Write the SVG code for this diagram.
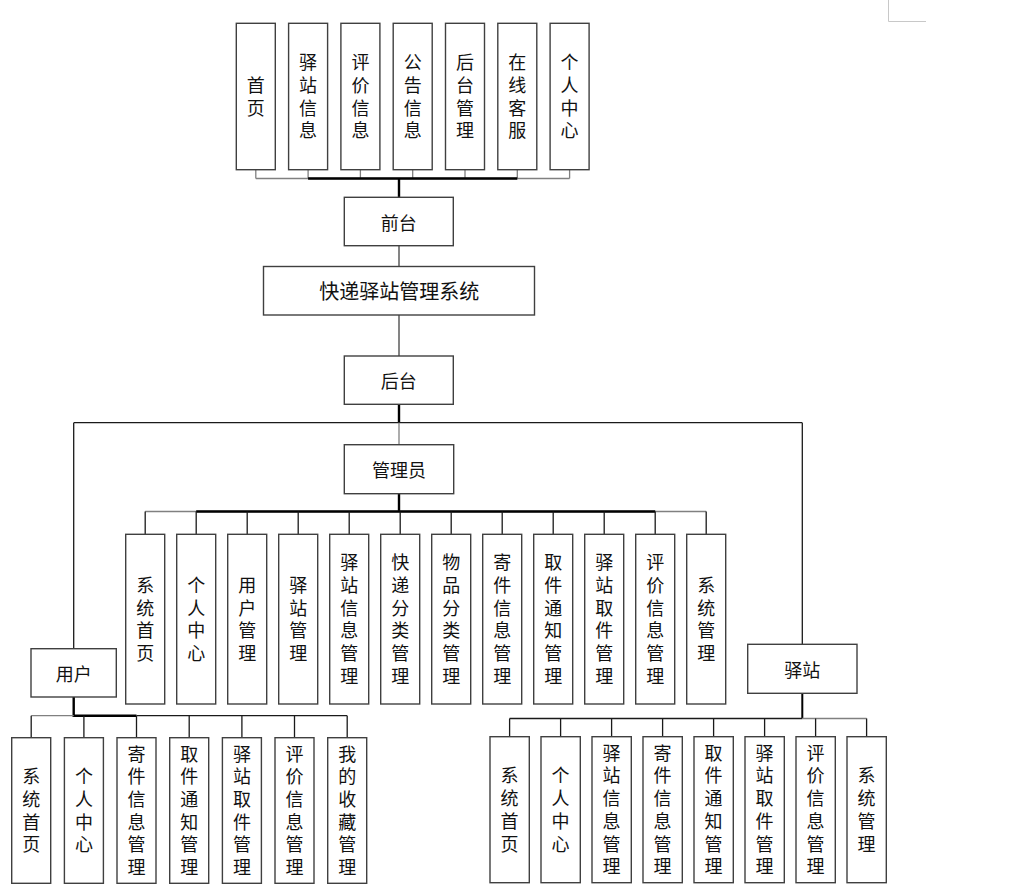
<svg xmlns="http://www.w3.org/2000/svg" width="1011" height="893" viewBox="0 0 1011 893">
<style>
.box{fill:#fff;stroke:#404040;stroke-width:1.4}
.lbl{font-family:"Noto Sans CJK SC","Noto Sans CJK TC",sans-serif;font-size:18px;fill:#111;text-anchor:middle;dominant-baseline:central}
.title{font-size:20px}
.v{font-family:"Noto Sans CJK SC","Noto Sans CJK TC",sans-serif;font-size:18px;fill:#111;text-anchor:middle;writing-mode:vertical-rl;letter-spacing:4.7px}
.c{stroke:#808080;stroke-width:1.3;fill:none}
.d{stroke:#1a1a1a;stroke-width:1.3;fill:none}
.t{stroke:#000;stroke-width:2.4;fill:none}
.g{stroke:#666;stroke-width:1.6;fill:none}
.m{stroke:#c8c8c8;stroke-width:1;fill:none}
</style>
<rect width="1011" height="893" fill="#fff"/>
<g id="corner-mark"><path class="m" d="M888.5 0V21.5H926"/></g>
<g id="connectors">
<path class="c" d="M255.8 169.7V178.5M308.1 169.7V178.5M360.4 169.7V178.5M412.7 169.7V178.5M465 169.7V178.5M517.3 169.7V178.5M569.6 169.7V178.5"/>
<path class="c" d="M255.8 178.5H569.6"/>
<path class="t" d="M308.1 178.5H517.3M399 178.5V197.3"/>
<path class="g" d="M399 245.7V266.5M399 315V356"/>
<path class="t" d="M399 404.3V422.7"/>
<path class="d" d="M73.7 422.7H802.3M73.7 422.7V648.7M802.3 422.7V644.3"/>
<path class="c" d="M399 422.7V444.7"/>
<path class="t" d="M399 493.7V511.5"/>
<path class="c" d="M145.2 511.5H706.2"/>
<path class="t" d="M196.2 511.5H655.2"/>
<path class="d" d="M145.2 511.5V534.3M196.2 511.5V534.3M247.2 511.5V534.3M298.2 511.5V534.3M349.2 511.5V534.3M400.2 511.5V534.3M451.2 511.5V534.3M502.2 511.5V534.3M553.2 511.5V534.3M604.2 511.5V534.3M655.2 511.5V534.3M706.2 511.5V534.3"/>
<path class="t" d="M73.7 697V715.7H136.5"/>
<path class="c" d="M31.2 715.7H73.7"/>
<path class="d" d="M136.5 715.7H347.2"/>
<path class="d" d="M31.2 715.7V737.7M83.9 715.7V737.7M136.5 715.7V737.7M189.2 715.7V737.7M241.9 715.7V737.7M294.5 715.7V737.7M347.2 715.7V737.7"/>
<path class="t" d="M802.3 693.3V718.5" style="stroke-width:2"/>
<path class="d" d="M509.6 718.5H802.3"/>
<path class="c" d="M802.3 718.5H866.6"/>
<path class="d" d="M509.6 718.5V736.7M560.6 718.5V736.7M611.6 718.5V736.7M662.6 718.5V736.7M713.6 718.5V736.7M764.6 718.5V736.7M815.6 718.5V736.7M866.6 718.5V736.7"/>
</g>
<g id="n-top-1"><rect class="box" x="236.3" y="23.3" width="39" height="146.4"/><text class="v" x="255.8" y="98.8">首页</text></g>
<g id="n-top-2"><rect class="box" x="288.6" y="23.3" width="39" height="146.4"/><text class="v" x="308.1" y="98.8">驿站信息</text></g>
<g id="n-top-3"><rect class="box" x="340.9" y="23.3" width="39" height="146.4"/><text class="v" x="360.4" y="98.8">评价信息</text></g>
<g id="n-top-4"><rect class="box" x="393.2" y="23.3" width="39" height="146.4"/><text class="v" x="412.7" y="98.8">公告信息</text></g>
<g id="n-top-5"><rect class="box" x="445.5" y="23.3" width="39" height="146.4"/><text class="v" x="465" y="98.8">后台管理</text></g>
<g id="n-top-6"><rect class="box" x="497.8" y="23.3" width="39" height="146.4"/><text class="v" x="517.3" y="98.8">在线客服</text></g>
<g id="n-top-7"><rect class="box" x="550.1" y="23.3" width="39" height="146.4"/><text class="v" x="569.6" y="98.8">个人中心</text></g>
<g id="n-qiantai"><rect class="box" x="344.3" y="197.3" width="109" height="48.4"/><text class="lbl" x="398.8" y="221.5">前台</text></g>
<g id="n-system"><rect class="box" x="263.5" y="266.5" width="271" height="48.5"/><text class="lbl title" x="399.3" y="290.7">快递驿站管理系统</text></g>
<g id="n-houtai"><rect class="box" x="344.3" y="356" width="109" height="48.3"/><text class="lbl" x="398.8" y="380.2">后台</text></g>
<g id="n-admin"><rect class="box" x="344.3" y="444.7" width="109.4" height="49"/><text class="lbl" x="399" y="469.2">管理员</text></g>
<g id="n-admin-1"><rect class="box" x="125.7" y="534.3" width="39" height="169.7"/><text class="v" x="145.2" y="621.5">系统首页</text></g>
<g id="n-admin-2"><rect class="box" x="176.7" y="534.3" width="39" height="169.7"/><text class="v" x="196.2" y="621.5">个人中心</text></g>
<g id="n-admin-3"><rect class="box" x="227.7" y="534.3" width="39" height="169.7"/><text class="v" x="247.2" y="621.5">用户管理</text></g>
<g id="n-admin-4"><rect class="box" x="278.7" y="534.3" width="39" height="169.7"/><text class="v" x="298.2" y="621.5">驿站管理</text></g>
<g id="n-admin-5"><rect class="box" x="329.7" y="534.3" width="39" height="169.7"/><text class="v" x="349.2" y="621.5">驿站信息管理</text></g>
<g id="n-admin-6"><rect class="box" x="380.7" y="534.3" width="39" height="169.7"/><text class="v" x="400.2" y="621.5">快递分类管理</text></g>
<g id="n-admin-7"><rect class="box" x="431.7" y="534.3" width="39" height="169.7"/><text class="v" x="451.2" y="621.5">物品分类管理</text></g>
<g id="n-admin-8"><rect class="box" x="482.7" y="534.3" width="39" height="169.7"/><text class="v" x="502.2" y="621.5">寄件信息管理</text></g>
<g id="n-admin-9"><rect class="box" x="533.7" y="534.3" width="39" height="169.7"/><text class="v" x="553.2" y="621.5">取件通知管理</text></g>
<g id="n-admin-10"><rect class="box" x="584.7" y="534.3" width="39" height="169.7"/><text class="v" x="604.2" y="621.5">驿站取件管理</text></g>
<g id="n-admin-11"><rect class="box" x="635.7" y="534.3" width="39" height="169.7"/><text class="v" x="655.2" y="621.5">评价信息管理</text></g>
<g id="n-admin-12"><rect class="box" x="686.7" y="534.3" width="39" height="169.7"/><text class="v" x="706.2" y="621.5">系统管理</text></g>
<g id="n-user"><rect class="box" x="31" y="648.7" width="85.3" height="48.3"/><text class="lbl" x="73.7" y="672.9">用户</text></g>
<g id="n-station"><rect class="box" x="747.7" y="644.3" width="109.3" height="49"/><text class="lbl" x="802.3" y="668.8">驿站</text></g>
<g id="n-user-1"><rect class="box" x="11.7" y="737.7" width="39" height="145.6"/><text class="v" x="31.2" y="812.8">系统首页</text></g>
<g id="n-user-2"><rect class="box" x="64.4" y="737.7" width="39" height="145.6"/><text class="v" x="83.9" y="812.8">个人中心</text></g>
<g id="n-user-3"><rect class="box" x="117" y="737.7" width="39" height="145.6"/><text class="v" x="136.5" y="812.8">寄件信息管理</text></g>
<g id="n-user-4"><rect class="box" x="169.7" y="737.7" width="39" height="145.6"/><text class="v" x="189.2" y="812.8">取件通知管理</text></g>
<g id="n-user-5"><rect class="box" x="222.4" y="737.7" width="39" height="145.6"/><text class="v" x="241.9" y="812.8">驿站取件管理</text></g>
<g id="n-user-6"><rect class="box" x="275" y="737.7" width="39" height="145.6"/><text class="v" x="294.5" y="812.8">评价信息管理</text></g>
<g id="n-user-7"><rect class="box" x="327.7" y="737.7" width="39" height="145.6"/><text class="v" x="347.2" y="812.8">我的收藏管理</text></g>
<g id="n-station-1"><rect class="box" x="490" y="736.7" width="39.3" height="146"/><text class="v" x="509.6" y="812">系统首页</text></g>
<g id="n-station-2"><rect class="box" x="541" y="736.7" width="39.3" height="146"/><text class="v" x="560.6" y="812">个人中心</text></g>
<g id="n-station-3"><rect class="box" x="592" y="736.7" width="39.3" height="146"/><text class="v" x="611.6" y="812">驿站信息管理</text></g>
<g id="n-station-4"><rect class="box" x="643" y="736.7" width="39.3" height="146"/><text class="v" x="662.6" y="812">寄件信息管理</text></g>
<g id="n-station-5"><rect class="box" x="694" y="736.7" width="39.3" height="146"/><text class="v" x="713.6" y="812">取件通知管理</text></g>
<g id="n-station-6"><rect class="box" x="745" y="736.7" width="39.3" height="146"/><text class="v" x="764.6" y="812">驿站取件管理</text></g>
<g id="n-station-7"><rect class="box" x="796" y="736.7" width="39.3" height="146"/><text class="v" x="815.6" y="812">评价信息管理</text></g>
<g id="n-station-8"><rect class="box" x="847" y="736.7" width="39.3" height="146"/><text class="v" x="866.6" y="812">系统管理</text></g>
</svg>
